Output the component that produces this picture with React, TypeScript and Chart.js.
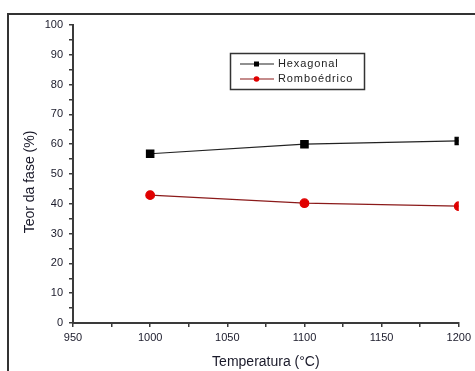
import React, { useEffect, useRef } from "react";
import { Chart, registerables } from "chart.js";

Chart.register(...registerables);

const temperatures = [1000, 1100, 1200];
const hexagonal = [56.8, 60.0, 61.1];
const romboedrico = [42.9, 40.2, 39.2];
const seriesNames = ["Hexagonal", "Romboédrico"];
const xTitle = "Temperatura (°C)";
const yTitle = "Teor da fase (%)";

const FONT = "'Liberation Sans', Arial, sans-serif";
const AXIS = "#3a3a3a";
const TEXT = "#1a1a2a";

const legendPlugin = {
  id: "boxLegend",
  afterDraw(chart: any) {
    const ctx = chart.ctx;
    const x0 = 230.5, y0 = 53.5, w = 134, h = 36;
    ctx.save();
    ctx.strokeStyle = "#333";
    ctx.lineWidth = 1.5;
    ctx.strokeRect(x0, y0, w, h);
    ctx.font = `11px ${FONT}`;
    try { (ctx as any).letterSpacing = "0.9px"; } catch (e) {}
    ctx.textBaseline = "middle";
    ctx.textAlign = "left";
    chart.data.datasets.forEach((ds: any, i: number) => {
      const y = y0 + 10.5 + i * 15;
      ctx.strokeStyle = ds.borderColor;
      ctx.lineWidth = 1.2;
      ctx.beginPath();
      ctx.moveTo(240, y);
      ctx.lineTo(274, y);
      ctx.stroke();
      ctx.fillStyle = ds.pointBackgroundColor;
      if (ds.pointStyle === "rect") {
        ctx.fillRect(254, y - 2.5, 5, 5);
      } else {
        ctx.beginPath();
        ctx.arc(256.5, y, 2.8, 0, Math.PI * 2);
        ctx.fill();
      }
      ctx.fillStyle = "#222";
      ctx.fillText(ds.label, 278, y);
    });
    ctx.restore();
  },
};

const yTitlePlugin = {
  id: "yTitle",
  afterDraw(chart: any) {
    const ctx = chart.ctx;
    const area = chart.chartArea;
    const cy = (area.top + area.bottom) / 2 + 8;
    ctx.save();
    ctx.translate(30, cy);
    ctx.rotate(-Math.PI / 2);
    ctx.font = `14px ${FONT}`;
    ctx.fillStyle = TEXT;
    ctx.textAlign = "center";
    ctx.textBaseline = "middle";
    ctx.fillText(yTitle, 0, 0);
    ctx.restore();
  },
};

export default function App() {
  const ref = useRef<HTMLCanvasElement | null>(null);
  useEffect(() => {
    if (!ref.current) return;
    const chart = new Chart(ref.current, {
      type: "line",
      data: {
        datasets: [
          {
            label: seriesNames[0],
            data: temperatures.map((t, i) => ({ x: t, y: hexagonal[i] })),
            borderColor: "#222",
            backgroundColor: "#000",
            pointBackgroundColor: "#000",
            pointBorderColor: "#000",
            pointStyle: "rect",
            pointRadius: 5.2,
            borderWidth: 1.2,
            clip: 0,
          },
          {
            label: seriesNames[1],
            data: temperatures.map((t, i) => ({ x: t, y: romboedrico[i] })),
            borderColor: "#8b1a1a",
            backgroundColor: "#e00000",
            pointBackgroundColor: "#e00000",
            pointBorderColor: "#e00000",
            pointStyle: "circle",
            pointRadius: 4.3,
            borderWidth: 1.2,
            clip: 0,
          },
        ],
      },
      options: {
        animation: false,
        responsive: false,
        layout: { padding: { top: 25, right: 12, left: 0, bottom: 0 } },
        plugins: { legend: { display: false }, tooltip: { enabled: false } },
        scales: {
          x: {
            type: "linear",
            min: 950,
            max: 1200,
            afterFit(s: any) { s.height = 48; },
            afterBuildTicks(s: any) {
              const t = [];
              for (let v = 950; v <= 1200; v += 25) t.push({ value: v });
              s.ticks = t;
            },
            ticks: {
              autoSkip: false,
              maxRotation: 0,
              padding: 4,
              color: TEXT,
              font: { family: FONT, size: 11 },
              callback: (v: any) => (Number(v) % 50 === 0 ? String(v) : ""),
            },
            grid: { drawOnChartArea: false, drawTicks: true, tickLength: 4, color: AXIS, lineWidth: 1.5 },
            border: { display: true, color: AXIS, width: 2 },
            title: { display: true, text: xTitle, color: TEXT, font: { family: FONT, size: 14 }, padding: { top: 0, bottom: 0 } },
          },
          y: {
            type: "linear",
            min: 0,
            max: 100,
            afterFit(s: any) { s.width = 73; },
            afterBuildTicks(s: any) {
              const t = [];
              for (let v = 0; v <= 100; v += 5) t.push({ value: v });
              s.ticks = t;
            },
            ticks: {
              autoSkip: false,
              padding: 6,
              color: TEXT,
              font: { family: FONT, size: 11 },
              callback: (v: any) => (Number(v) % 10 === 0 ? String(v) : ""),
            },
            grid: { drawOnChartArea: false, drawTicks: true, tickLength: 4, color: AXIS, lineWidth: 1.5 },
            border: { display: true, color: AXIS, width: 2 },
            title: { display: false, text: yTitle },
          },
        },
      },
      plugins: [legendPlugin, yTitlePlugin],
    });
    return () => chart.destroy();
  }, []);
  return (
    <div style={{ position: "fixed", left: 0, top: 0, width: 475, height: 371, background: "#fff", overflow: "hidden" }}>
      <canvas ref={ref} width={475} height={371} style={{ position: "absolute", left: 0, top: 0 }} />
      <div
        style={{
          position: "absolute",
          left: 7,
          top: 13,
          width: 480,
          height: 380,
          borderTop: "2px solid #333",
          borderLeft: "2px solid #333",
          pointerEvents: "none",
        }}
      />
    </div>
  );
}
